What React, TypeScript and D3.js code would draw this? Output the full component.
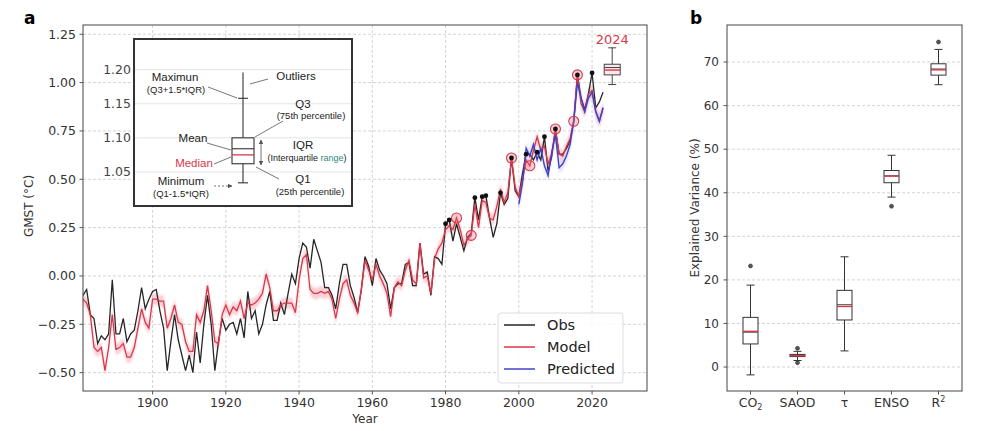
import * as d3 from "d3";

// ---- panel a data ----
const firstYear = 1881;
const obs = [
  -0.10, -0.07, -0.20, -0.22, -0.35, -0.31, -0.33, -0.30, -0.02, -0.30,
  -0.30, -0.22, -0.34, -0.30, -0.28, -0.18, -0.06, -0.17, -0.12, -0.08,
  -0.07, -0.18, -0.27, -0.49, -0.34, -0.20, -0.33, -0.41, -0.49, -0.41,
  -0.50, -0.29, -0.45, -0.25, -0.10, -0.25, -0.49, -0.34, -0.22, -0.28,
  -0.25, -0.24, -0.30, -0.22, -0.32, -0.08, -0.22, -0.18, -0.30, -0.25,
  -0.15, -0.08, -0.23, -0.23, -0.14, -0.20, -0.09, 0.01, -0.04, 0.09,
  0.17, 0.15, 0.04, 0.19, 0.13, 0.07, -0.06, -0.06, -0.10, -0.17,
  -0.04, 0.06, 0.06, -0.05, -0.11, -0.19, -0.07, 0.10, 0.05, -0.05,
  0.09, 0.03, 0.00, -0.04, -0.17, -0.06, -0.04, -0.04, 0.06, 0.07,
  -0.05, -0.05, 0.17, 0.01, 0.02, -0.10, 0.10, 0.09, 0.06, 0.27,
  0.29, 0.18, 0.27, 0.20, 0.13, 0.20, 0.22, 0.405, 0.29, 0.41,
  0.415, 0.30, 0.20, 0.27, 0.43, 0.37, 0.40, 0.61, 0.44, 0.41,
  0.53, 0.63, 0.63, 0.60, 0.64, 0.60, 0.72, 0.54, 0.62, 0.76,
  0.63, 0.63, 0.66, 0.70, 0.80, 1.04, 0.92, 0.86, 0.94, 1.05,
  0.87, 0.90, 0.95,
];
const model = [
  -0.12, -0.14, -0.20, -0.37, -0.39, -0.37, -0.49, -0.37, -0.20, -0.38,
  -0.37, -0.35, -0.42, -0.42, -0.37, -0.27, -0.17, -0.24, -0.27, -0.12,
  -0.12, -0.13, -0.13, -0.27, -0.22, -0.15, -0.24, -0.25, -0.34, -0.39,
  -0.39, -0.20, -0.24, -0.18, -0.05, -0.18, -0.34, -0.35, -0.20, -0.15,
  -0.20, -0.16, -0.18, -0.13, -0.22, -0.14, -0.15, -0.14, -0.12, -0.09,
  0.01, -0.06, -0.18, -0.18, -0.15, -0.14, -0.14, -0.14, -0.19, -0.02,
  0.09, 0.11, -0.07, -0.09, -0.09, -0.08, -0.09, -0.08, -0.12, -0.22,
  -0.12, -0.04, -0.02, -0.10, -0.14, -0.19, -0.07, 0.08, 0.03, -0.02,
  0.06, 0.00, -0.04, -0.09, -0.21, -0.06, -0.03, -0.05, 0.03, 0.08,
  -0.02, -0.04, 0.17, -0.01, 0.00, -0.09, 0.09, 0.14, 0.17, 0.24,
  0.26, 0.24, 0.30, 0.24, 0.16, 0.19, 0.21, 0.37, 0.25, 0.39,
  0.38, 0.30, 0.29, 0.36, 0.45, 0.38, 0.43, 0.61, 0.46, 0.41,
  0.50, 0.60, 0.57, 0.65, 0.72, 0.65, 0.67, 0.58, 0.63, 0.76,
  0.63, 0.62, 0.67, 0.71, 0.80, 1.04, 0.89, 0.85, 0.94, 0.96,
  0.85, 0.80, 0.87,
];
const predStart = 2000;
const predicted = [
  0.37, 0.48, 0.66, 0.62, 0.68, 0.60, 0.66, 0.57, 0.52, 0.64,
  0.73, 0.56, 0.58, 0.62, 0.68, 0.80, 1.00, 0.92, 0.85, 0.92,
  0.95, 0.85, 0.80, 0.87,
];
const recordYears = [1980, 1981, 1988, 1990, 1991, 1995, 1998, 2002, 2005, 2007, 2010, 2016, 2020];
const circleYears = [1983, 1987, 1998, 2003, 2010, 2015, 2016];
const xTicksA = [1900, 1920, 1940, 1960, 1980, 2000, 2020];
const yTicksA = [-0.5, -0.25, 0, 0.25, 0.5, 0.75, 1.0, 1.25];

// 2024 forecast box (main plot) and the zoomed legend box (inset)
const box2024 = { pos: 2025.5, lo: 0.99, q1: 1.04, med: 1.065, mean: 1.078, q3: 1.095, hi: 1.18 };
const insetBox = { lo: 1.034, q1: 1.062, med: 1.075, mean: 1.084, q3: 1.1, hi: 1.158, top: 1.196 };
const insetTicks = [1.05, 1.1, 1.15, 1.2];

// ---- panel b data ----
const factors = ["CO2", "SAOD", "tau", "ENSO", "R2"];
const whiskLo = [-1.8, 1.5, 3.7, 39.0, 64.8];
const q1s = [5.3, 2.4, 10.8, 42.3, 67.0];
const medians = [8.2, 2.6, 13.9, 43.8, 68.2];
const means = [8.0, 2.75, 14.3, 43.9, 68.4];
const q3s = [11.4, 2.9, 17.6, 45.1, 69.6];
const whiskHi = [18.8, 3.6, 25.3, 48.6, 72.9];
const outliers = [[23.2], [4.3, 1.0], [], [36.9], [74.6]];
const yTicksB = [0, 10, 20, 30, 40, 50, 60, 70];

const FONT = "DejaVu Sans, sans-serif";
const ARIAL = "Liberation Sans, Arial, sans-serif";
const RED = "#d8384a";
const BLUE = "#4242c8";
const GRID = "#d4d4d4";

export default function App() {
  const x = d3.scaleLinear().domain([1881, 2035]).range([83, 647]);
  const y = d3.scaleLinear().domain([-0.595, 1.298]).range([391, 25]);
  const xb = d3.scaleLinear().domain([0.5, 5.5]).range([727, 962]);
  const yb = d3.scaleLinear().domain([-5.5, 78.5]).range([391, 25]);
  const yi = d3.scaleLinear().domain([1.0, 1.245]).range([206, 39]);

  const obsPts = obs.map((v, i) => [firstYear + i, v] as [number, number]);
  const modPts = model.map((v, i) => [firstYear + i, v] as [number, number]);
  const predPts = predicted.map((v, i) => [predStart + i, v] as [number, number]);
  const line = d3.line<[number, number]>().x((d) => x(d[0])).y((d) => y(d[1]));
  const band = d3
    .area<[number, number]>()
    .x((d) => x(d[0]))
    .y0((d) => y(d[1] - 0.03))
    .y1((d) => y(d[1] + 0.03));

  const valAt = (arr: number[], yr: number) => arr[yr - firstYear];
  const ix = 243;

  const catLabel = (c: string) => {
    if (c === "CO2") return <>CO<tspan fontSize={8} dy={3}>2</tspan></>;
    if (c === "R2") return <>R<tspan fontSize={8} dy={-5}>2</tspan></>;
    if (c === "tau") return <>τ</>;
    return <>{c}</>;
  };

  return (
    <svg width={1000} height={431} style={{ position: "absolute", left: 0, top: 0, background: "#fff" }}>
      <defs>
        <filter id="glow" x="-5%" y="-20%" width="110%" height="140%">
          <feGaussianBlur stdDeviation="1.2" />
        </filter>
        <marker id="arr" viewBox="0 0 10 10" refX="9" refY="5" markerWidth="5" markerHeight="5" orient="auto-start-reverse">
          <path d="M0,0 L10,5 L0,10 z" fill="#555" />
        </marker>
      </defs>

      {/* ---------- panel a ---------- */}
      <text x={24} y={24} fontFamily={FONT} fontWeight="bold" fontSize={17}>a</text>
      <g>
        {xTicksA.map((t) => (
          <line key={"gx" + t} x1={x(t)} x2={x(t)} y1={25} y2={391} stroke={GRID} strokeDasharray="3,2" />
        ))}
        {yTicksA.map((t) => (
          <line key={"gy" + t} x1={83} x2={647} y1={y(t)} y2={y(t)} stroke={GRID} strokeDasharray="3,2" />
        ))}
      </g>

      <path d={band(modPts) || ""} fill="#f4a0ad" opacity={0.5} filter="url(#glow)" />
      <path d={band(predPts) || ""} fill="#a8a8ee" opacity={0.35} filter="url(#glow)" />
      <path d={line(obsPts) || ""} fill="none" stroke="#262626" strokeWidth={1.3} />
      <path d={line(modPts) || ""} fill="none" stroke={RED} strokeWidth={1.3} />
      <path d={line(predPts) || ""} fill="none" stroke={BLUE} strokeWidth={1.4} />

      {circleYears.map((yr) => (
        <circle key={"c" + yr} cx={x(yr)} cy={y(valAt(model, yr))} r={5} fill="rgba(230,110,130,0.3)" stroke={RED} strokeWidth={1.1} />
      ))}
      {recordYears.map((yr) => (
        <circle key={"d" + yr} cx={x(yr)} cy={y(valAt(obs, yr))} r={2.4} fill="#111" />
      ))}

      {/* 2024 box */}
      <g stroke="#444" strokeWidth={1}>
        <line x1={x(box2024.pos)} x2={x(box2024.pos)} y1={y(box2024.hi)} y2={y(box2024.q3)} />
        <line x1={x(box2024.pos)} x2={x(box2024.pos)} y1={y(box2024.q1)} y2={y(box2024.lo)} />
        <line x1={x(box2024.pos) - 4} x2={x(box2024.pos) + 4} y1={y(box2024.hi)} y2={y(box2024.hi)} />
        <line x1={x(box2024.pos) - 4} x2={x(box2024.pos) + 4} y1={y(box2024.lo)} y2={y(box2024.lo)} />
        <rect x={x(box2024.pos) - 8} width={16} y={y(box2024.q3)} height={y(box2024.q1) - y(box2024.q3)} fill="#fbe9ec" />
        <line x1={x(box2024.pos) - 8} x2={x(box2024.pos) + 8} y1={y(box2024.mean)} y2={y(box2024.mean)} />
        <line x1={x(box2024.pos) - 8} x2={x(box2024.pos) + 8} y1={y(box2024.med)} y2={y(box2024.med)} stroke={RED} strokeWidth={1.4} />
      </g>
      <text x={x(box2024.pos)} y={44} textAnchor="middle" fontFamily={FONT} fontSize={13} fill={RED}>2024</text>

      {/* inset */}
      <g>
        <rect x={134} y={39} width={218} height={167} fill="#fff" stroke="#333" strokeWidth={2} />
        {insetTicks.map((t) => (
          <g key={"it" + t}>
            <line x1={135} x2={351} y1={yi(t)} y2={yi(t)} stroke="#e4e4e4" />
            <text x={131} y={yi(t) + 4.5} textAnchor="end" fontFamily={FONT} fontSize={12.5} fill="#444">{t.toFixed(2)}</text>
          </g>
        ))}
        <g stroke="#333" strokeWidth={1.1}>
          <line x1={ix} x2={ix} y1={yi(insetBox.top)} y2={yi(insetBox.q3)} />
          <line x1={ix} x2={ix} y1={yi(insetBox.q1)} y2={yi(insetBox.lo)} />
          <line x1={ix - 5} x2={ix + 5} y1={yi(insetBox.hi)} y2={yi(insetBox.hi)} />
          <line x1={ix - 5} x2={ix + 5} y1={yi(insetBox.lo)} y2={yi(insetBox.lo)} />
          <rect x={ix - 11} width={22} y={yi(insetBox.q3)} height={yi(insetBox.q1) - yi(insetBox.q3)} fill="#fff" />
          <line x1={ix - 11} x2={ix + 11} y1={yi(insetBox.mean)} y2={yi(insetBox.mean)} />
          <line x1={ix - 11} x2={ix + 11} y1={yi(insetBox.med)} y2={yi(insetBox.med)} stroke={RED} strokeWidth={1.3} />
        </g>
        <g stroke="#666" strokeWidth={0.9} fill="none">
          <line x1={208} y1={87} x2={237} y2={98} />
          <line x1={268} y1={79} x2={250} y2={84} />
          <line x1={283} y1={121} x2={255} y2={137} />
          <line x1={207} y1={143} x2={231} y2={150} />
          <line x1={214} y1={164} x2={231} y2={157} />
          <line x1={256} y1={167} x2={279} y2={179} />
          <line x1={261} y1={140} x2={261} y2={165} markerStart="url(#arr)" markerEnd="url(#arr)" />
          <line x1={214} y1={186} x2={232} y2={186} strokeDasharray="2,2" markerEnd="url(#arr)" />
        </g>
        <g fontFamily={ARIAL} fill="#222" textAnchor="middle">
          <text x={175} y={81} fontSize={11.5}>Maximun</text>
          <text x={176} y={92.5} fontSize={9.5}>(Q3+1.5*IQR)</text>
          <text x={296} y={80} fontSize={11.5}>Outliers</text>
          <text x={303} y={108} fontSize={11.5}>Q3</text>
          <text x={311} y={119} fontSize={9.5}>(75th percentile)</text>
          <text x={193} y={142} fontSize={11.5}>Mean</text>
          <text x={194} y={167} fontSize={11.5} fill={RED}>Median</text>
          <text x={303} y={149} fontSize={11.5}>IQR</text>
          <text x={307} y={160.5} fontSize={9}>(Interquartile <tspan fill="#2d8a7a">range</tspan>)</text>
          <text x={303} y={183} fontSize={11.5}>Q1</text>
          <text x={310} y={194.5} fontSize={9.5}>(25th percentile)</text>
          <text x={181} y={185} fontSize={11.5}>Minimum</text>
          <text x={181} y={196.5} fontSize={9.5}>(Q1-1.5*IQR)</text>
        </g>
      </g>

      {/* axes a */}
      <rect x={83} y={25} width={564} height={366} fill="none" stroke="#555" strokeWidth={1.1} />
      {yTicksA.map((t) => (
        <g key={"ya" + t}>
          <line x1={79.5} x2={83} y1={y(t)} y2={y(t)} stroke="#555" />
          <text x={76} y={y(t) + 4.5} textAnchor="end" fontFamily={FONT} fontSize={12.5} fill="#333">
            {t.toFixed(2).replace("-", "\u2212")}
          </text>
        </g>
      ))}
      {xTicksA.map((t) => (
        <g key={"xa" + t}>
          <line x1={x(t)} x2={x(t)} y1={391} y2={394.5} stroke="#555" />
          <text x={x(t)} y={407} textAnchor="middle" fontFamily={FONT} fontSize={12.5} fill="#333">{t}</text>
        </g>
      ))}
      <text x={365} y={423} textAnchor="middle" fontFamily={FONT} fontSize={12} fill="#333">Year</text>
      <text transform="translate(33,206) rotate(-90)" textAnchor="middle" fontFamily={FONT} fontSize={12} fill="#333">GMST (°C)</text>

      {/* legend */}
      <g>
        <rect x={498} y={313} width={125} height={70} rx={3} fill="#fff" fillOpacity={0.85} stroke="#ddd" />
        {[
          { label: "Obs", color: "#262626" },
          { label: "Model", color: RED },
          { label: "Predicted", color: BLUE },
        ].map((e, i) => (
          <g key={e.label}>
            <line x1={504} x2={535} y1={325 + i * 22} y2={325 + i * 22} stroke={e.color} strokeWidth={1.5} />
            <text x={547} y={330 + i * 22} fontFamily={FONT} fontSize={14.5} fill="#222">{e.label}</text>
          </g>
        ))}
      </g>

      {/* ---------- panel b ---------- */}
      <text x={690} y={24} fontFamily={FONT} fontWeight="bold" fontSize={17}>b</text>
      {yTicksB.map((t) => (
        <line key={"gb" + t} x1={727} x2={962} y1={yb(t)} y2={yb(t)} stroke={GRID} strokeDasharray="3,2" />
      ))}
      {factors.map((f, i) => {
        const cx = xb(i + 1);
        const hw = 7.5;
        return (
          <g key={f}>
            <g stroke="#333" strokeWidth={1}>
              <line x1={cx} x2={cx} y1={yb(whiskHi[i])} y2={yb(q3s[i])} />
              <line x1={cx} x2={cx} y1={yb(q1s[i])} y2={yb(whiskLo[i])} />
              <line x1={cx - 4} x2={cx + 4} y1={yb(whiskHi[i])} y2={yb(whiskHi[i])} />
              <line x1={cx - 4} x2={cx + 4} y1={yb(whiskLo[i])} y2={yb(whiskLo[i])} />
              <rect x={cx - hw} width={hw * 2} y={yb(q3s[i])} height={Math.max(1, yb(q1s[i]) - yb(q3s[i]))} fill="#fff" />
              <line x1={cx - hw} x2={cx + hw} y1={yb(means[i])} y2={yb(means[i])} stroke="#444" />
              <line x1={cx - hw} x2={cx + hw} y1={yb(medians[i])} y2={yb(medians[i])} stroke={RED} strokeWidth={1.4} />
            </g>
            {outliers[i].map((o, j) => (
              <circle key={j} cx={cx} cy={yb(o)} r={2} fill="#555" stroke="#333" strokeWidth={0.6} />
            ))}
          </g>
        );
      })}
      <rect x={727} y={25} width={235} height={366} fill="none" stroke="#555" strokeWidth={1.1} />
      {yTicksB.map((t) => (
        <g key={"yb" + t}>
          <line x1={723.5} x2={727} y1={yb(t)} y2={yb(t)} stroke="#555" />
          <text x={719} y={yb(t) + 4.3} textAnchor="end" fontFamily={FONT} fontSize={12} fill="#333">{t}</text>
        </g>
      ))}
      {factors.map((f, i) => (
        <g key={"xb" + f}>
          <line x1={xb(i + 1)} x2={xb(i + 1)} y1={391} y2={394.5} stroke="#555" />
          <text x={xb(i + 1)} y={407} textAnchor="middle" fontFamily={FONT} fontSize={12.5} fill="#333">{catLabel(f)}</text>
        </g>
      ))}
      <text transform="translate(699,208) rotate(-90)" textAnchor="middle" fontFamily={FONT} fontSize={12} fill="#333">
        Explained Variance (%)
      </text>
    </svg>
  );
}
